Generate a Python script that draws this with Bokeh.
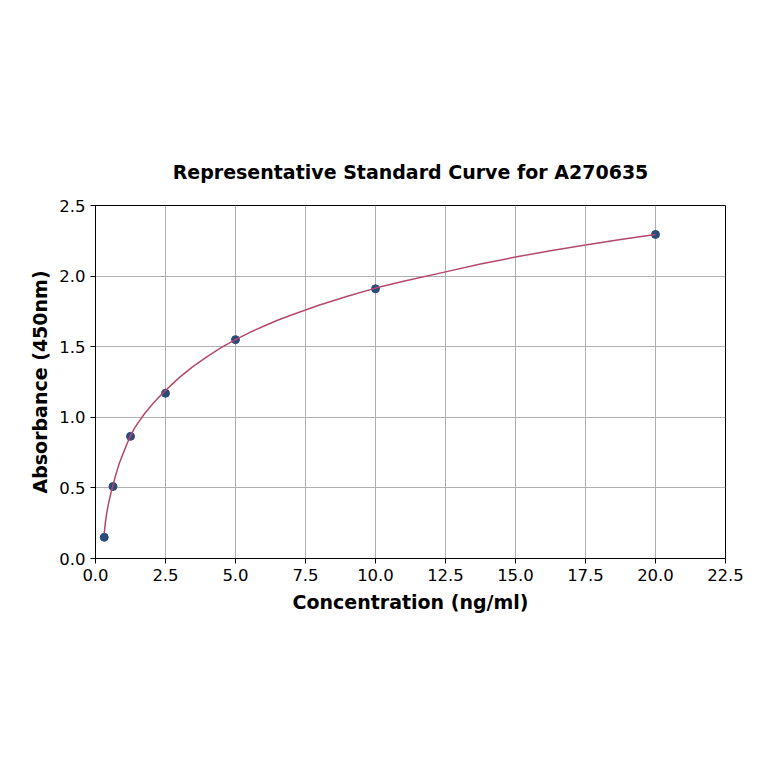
from bokeh.plotting import figure
from bokeh.models import FixedTicker, Range1d
from bokeh.embed import file_html
from bokeh.resources import INLINE

# Standard points
conc = [0.3125, 0.625, 1.25, 2.5, 5.0, 10.0, 20.0]
absorb = [0.15, 0.51, 0.865, 1.17, 1.55, 1.91, 2.295]

# Fitted curve
curve_x = [0.3125, 0.35, 0.4, 0.45, 0.5, 0.56, 0.625, 0.7, 0.75, 0.85, 1.0, 1.1, 1.25, 1.4, 1.5,
           1.75, 2.0, 2.25, 2.5, 2.75, 3.0, 3.5, 4.0, 4.5, 5.0, 5.5, 6.0, 6.5, 7.0, 7.5, 8.0,
           9.0, 10.0, 11.0, 12.5, 13.75, 15.0, 16.25, 17.5, 18.75, 20.0]
curve_y = [0.18, 0.25, 0.32, 0.375, 0.42, 0.47, 0.52, 0.575, 0.61, 0.675, 0.75, 0.80, 0.87,
           0.925, 0.955, 1.025, 1.085, 1.14, 1.19, 1.237, 1.283, 1.362, 1.432, 1.495, 1.55,
           1.60, 1.645, 1.687, 1.725, 1.76, 1.795, 1.857, 1.915, 1.963, 2.03, 2.085, 2.135,
           2.18, 2.22, 2.26, 2.295]

x_ticks = [0.0, 2.5, 5.0, 7.5, 10.0, 12.5, 15.0, 17.5, 20.0, 22.5]
y_ticks = [0.0, 0.5, 1.0, 1.5, 2.0, 2.5]

FONT = "DejaVu Sans"

p = figure(width=748, height=748, output_backend="svg", toolbar_location=None,
           x_range=Range1d(0, 22.5), y_range=Range1d(0, 2.5),
           title="Representative Standard Curve for A270635",
           min_border_left=95, min_border_right=23, min_border_top=205, min_border_bottom=190)

p.title.align = "center"
p.title.text_font = FONT
p.title.text_font_size = "19px"
p.title.text_font_style = "bold"
p.title.text_color = "black"
p.title.offset = 0
p.title.standoff = 45

p.outline_line_color = "black"
p.outline_line_width = 1

for ax in (p.xaxis[0], p.yaxis[0]):
    ax.major_label_text_font = FONT
    ax.major_label_text_font_size = "16.5px"
    ax.major_label_text_color = "black"
    ax.axis_label_text_font = FONT
    ax.axis_label_text_font_size = "19px"
    ax.axis_label_text_font_style = "bold"
    ax.axis_label_text_color = "black"
    ax.minor_tick_line_color = None
    ax.major_tick_out = 5
    ax.major_tick_in = 0
    ax.major_tick_line_color = "black"
    ax.axis_line_color = "black"

p.xaxis[0].axis_label_standoff = 7
p.xaxis[0].ticker = FixedTicker(ticks=x_ticks)
p.yaxis[0].ticker = FixedTicker(ticks=y_ticks)
p.xaxis[0].major_label_overrides = {t: f"{t:.1f}" for t in x_ticks}
p.yaxis[0].major_label_overrides = {t: f"{t:.1f}" for t in y_ticks}
p.xaxis[0].axis_label = "Concentration (ng/ml)"
p.yaxis[0].axis_label = "Absorbance (450nm)"

p.xgrid.grid_line_color = "#b0b0b0"
p.ygrid.grid_line_color = "#b0b0b0"
p.xgrid.ticker = FixedTicker(ticks=x_ticks)
p.ygrid.ticker = FixedTicker(ticks=y_ticks)

p.scatter(conc, absorb, size=8, fill_color="#2b4b7b", line_color="#2b4b7b")
p.line(curve_x, curve_y, line_color="#b5476e", line_width=1.5)

open("out.html", "w").write(file_html(p, INLINE))
